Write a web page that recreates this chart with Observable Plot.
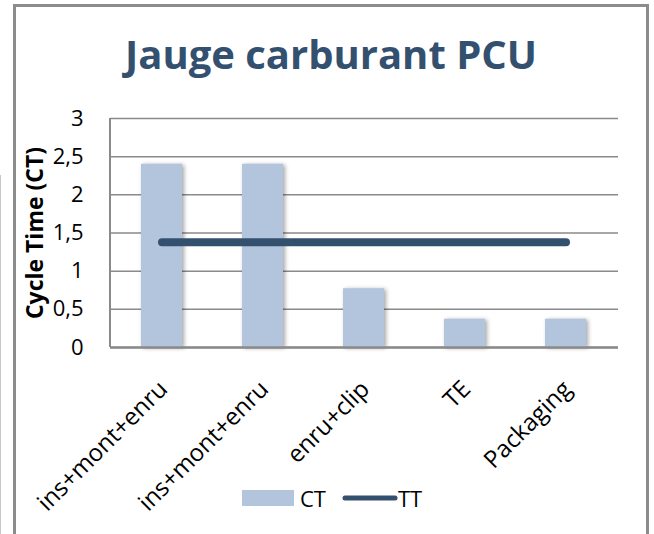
<!DOCTYPE html>
<html>
<head>
<meta charset="utf-8">
<script src="https://cdn.jsdelivr.net/npm/d3@7"></script>
<script src="https://cdn.jsdelivr.net/npm/@observablehq/plot@0.6"></script>
<style>
  body { margin: 0; background: #fff; }
  #wrap { position: relative; width: 654px; height: 534px; overflow: hidden; font-family: "Open Sans", sans-serif; }
  .bd { position: absolute; background: #8c8c8c; }
  #title { position: absolute; left: 0; width: 662px; top: 34px; text-align: center; font-weight: 700; font-size: 40px; color: #34506f; line-height: 1; }
  #legend { position: absolute; top: 483px; left: 242px; display: flex; align-items: center; font-size: 22px; color: #000; }
  #chart { position: absolute; left: 0; top: 0; }
</style>
</head>
<body>
<div id="wrap">
  <div class="bd" style="left:13px; top:4px; width:3px; height:540px;"></div>
  <div class="bd" style="left:13px; top:4px; width:636px; height:3px;"></div>
  <div class="bd" style="left:646px; top:4px; width:3px; height:540px;"></div>
  <div class="bd" style="left:0px; top:175px; width:1px; height:360px; background:#c8c8c8;"></div>
  <div id="chart"></div>
  <div id="title">Jauge carburant PCU</div>
  <div id="legend">
    <svg width="52" height="16"><rect x="0" y="0" width="52" height="16" fill="#b2c5dd"></rect></svg>
    <span style="margin-left:6px;">CT</span>
    <svg width="56" height="16" style="margin-left:16px;"><line x1="3" y1="8" x2="53" y2="8" stroke="#34506f" stroke-width="5" stroke-linecap="round"></line></svg>
    <span>TT</span>
  </div>
</div>
<script>
const categories = ["ins+mont+enru", "ins+mont+enru", "enru+clip", "TE", "Packaging"];
const ctValues = [2.4, 2.4, 0.77, 0.37, 0.37];
const ttValues = [1.38, 1.38, 1.38, 1.38, 1.38];
const yTicks = [0, 0.5, 1, 1.5, 2, 2.5, 3];
const seriesNames = ["CT", "TT"];
const yLabel = "Cycle Time (CT)";

const idx = categories.map((_, i) => i);
const data = idx.map(i => ({i, cat: categories[i], ct: ctValues[i], tt: ttValues[i]}));

const barColor = "#b2c5dd";
const lineColor = "#34506f";

const plot = Plot.plot({
  width: 654,
  height: 534,
  marginLeft: 110,
  marginRight: 36,
  marginTop: 118,
  marginBottom: 187,
  style: {fontFamily: "Open Sans, sans-serif", background: "transparent"},
  x: {domain: idx, paddingInner: 0.59, paddingOuter: 0.295, axis: null},
  y: {domain: [0, 3], axis: null},
  marks: [
    Plot.gridY(yTicks, {stroke: "#8a8a8a", strokeOpacity: 1, strokeWidth: 1.5}),
    Plot.barY(data, {x: "i", y: "ct", fill: barColor}),
    Plot.ruleY([0], {stroke: "#8a8a8a", strokeWidth: 2.5}),
    Plot.lineY(data, {x: "i", y: "tt", stroke: lineColor, strokeWidth: 8, strokeLinecap: "round"}),
    Plot.axisY(yTicks, {tickSize: 0, tickPadding: 27, fontSize: 22, tickFormat: d => String(d).replace(".", ","), label: null, fill: "#000"}),
    Plot.text([yLabel], {frameAnchor: "left", textAnchor: "middle", lineAnchor: "middle", rotate: -90, dx: -75, fontSize: 23, fontWeight: "bold", fill: "#000"}),
    Plot.text(data, {x: "i", text: "cat", frameAnchor: "bottom", rotate: -45, textAnchor: "end", lineAnchor: "bottom", dy: 43, dx: 7, fontSize: 24, fill: "#000"})
  ]
});

document.getElementById("chart").appendChild(plot);

// left axis line and bar shadows, derived from the plot's own scales
const xs = plot.scale("x"), ys = plot.scale("y");
const svg = d3.select(plot);
const yr = ys.range;
svg.append("line")
  .attr("x1", xs.range[0]).attr("x2", xs.range[0])
  .attr("y1", yr[0]).attr("y2", yr[1])
  .attr("stroke", "#8a8a8a").attr("stroke-width", 2);
svg.selectAll("g[aria-label='bar'] rect").style("filter", "drop-shadow(2px 1px 2px rgba(0,0,0,0.35))");
</script>
</body>
</html>
